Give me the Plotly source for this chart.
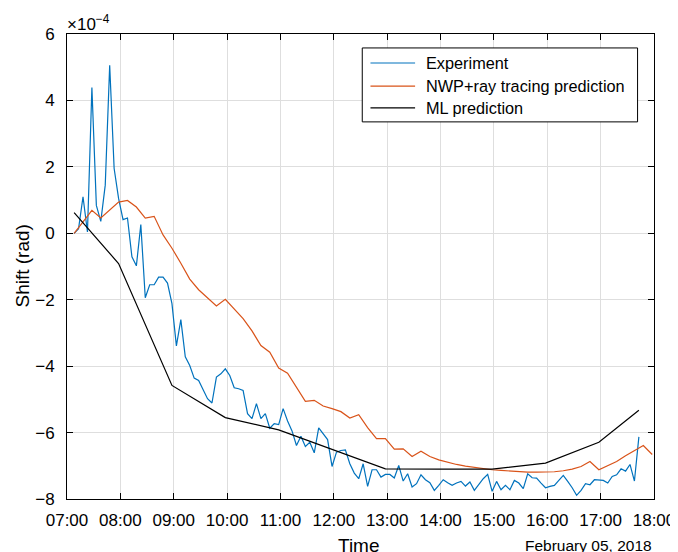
import pandas as pd
import plotly.graph_objects as go

DAY = "2018-02-05"

# Experiment: samples every 5 min starting 07:08 (values in units of 1e-4 rad)
exp_start = "07:08"
exp_vals = [0.0, 0.14, 1.1, 0.04, 4.39, 0.84, 0.36, 1.45, 5.06, 1.95,
            1.05, 0.41, 0.46, -0.71, -0.98, 0.26, -1.94, -1.55, -1.55, -1.32,
            -1.32, -1.5, -2.12, -3.39, -2.6, -3.72, -3.98, -4.36, -4.43, -4.71,
            -4.98, -5.11, -4.33, -4.23, -4.08, -4.28, -4.65, -4.68, -4.73, -5.43,
            -5.58, -5.13, -5.58, -5.43, -5.87, -5.73, -5.76, -5.28, -5.65, -5.95,
            -6.39, -6.11, -6.42, -6.29, -6.61, -5.86, -6.03, -6.21, -7.02, -6.59,
            -6.54, -6.52, -6.94, -7.22, -7.39, -6.94, -7.62, -7.12, -7.12, -7.34,
            -7.26, -7.26, -7.37, -6.99, -7.46, -7.24, -7.64, -7.54, -7.27, -7.42,
            -7.51, -7.74, -7.59, -7.42, -7.51, -7.59, -7.52, -7.47, -7.61, -7.49,
            -7.74, -7.56, -7.39, -7.26, -7.77, -7.47, -7.72, -7.59, -7.72, -7.44,
            -7.52, -7.69, -7.24, -7.36, -7.37, -7.52, -7.66, -7.62, -7.59, -7.44,
            -7.29, -7.47, -7.66, -7.89, -7.74, -7.54, -7.57, -7.42, -7.42, -7.44,
            -7.52, -7.32, -7.27, -7.09, -7.16, -6.96, -7.46, -6.13]

# NWP + ray tracing prediction: every 10 min starting 07:08
nwp_start = "07:08"
nwp_vals = [0.0, 0.35, 0.69, 0.46, 0.70, 0.94, 0.99, 0.79, 0.46, 0.51,
            -0.05, -0.45, -0.9, -1.38, -1.7, -1.95, -2.19, -1.99, -2.28, -2.57,
            -2.94, -3.38, -3.58, -4.06, -4.21, -4.65, -5.06, -5.03, -5.2, -5.28,
            -5.37, -5.56, -5.46, -5.85, -6.18, -6.18, -6.5, -6.49, -6.72, -6.56,
            -6.72, -6.82, -6.9, -6.96, -7.01, -7.05, -7.09, -7.12, -7.14, -7.16,
            -7.18, -7.19, -7.19, -7.19, -7.18, -7.15, -7.1, -7.02, -6.87, -7.12,
            -7.0, -6.87, -6.7, -6.55, -6.39, -6.66]

# ML prediction
ml_times = ["07:08", "07:58", "08:58", "09:58", "10:58", "11:58", "12:58",
            "13:58", "14:58", "15:58", "16:58", "17:43"]
ml_vals = [0.62, -0.91, -4.58, -5.55, -5.92, -6.5, -7.09, -7.1, -7.1, -6.92,
           -6.29, -5.33]

series_names = ["Experiment", "NWP+ray tracing prediction", "ML prediction"]
series_colors = ["#0072BD", "#D95319", "#000000"]

x_ticks = ["07:00", "08:00", "09:00", "10:00", "11:00", "12:00", "13:00",
           "14:00", "15:00", "16:00", "17:00", "18:00"]
y_ticks = [6, 4, 2, 0, -2, -4, -6, -8]
SCALE = 1e-4

exp_t = pd.date_range(f"{DAY} {exp_start}", periods=len(exp_vals), freq="5min")
nwp_t = pd.date_range(f"{DAY} {nwp_start}", periods=len(nwp_vals), freq="10min")
ml_t = [pd.Timestamp(f"{DAY} {t}") for t in ml_times]

FONT = "Liberation Sans, Arial, sans-serif"

fig = go.Figure()
for t, vals, name, col in zip([exp_t, nwp_t, ml_t], [exp_vals, nwp_vals, ml_vals],
                              series_names, series_colors):
    fig.add_trace(go.Scatter(x=t, y=[v * SCALE for v in vals], mode="lines",
                             name=name, line=dict(color=col, width=1.2)))

# page body has an 8px margin, so the figure is 8px smaller than the window
fig.update_layout(
    width=670, height=544,
    margin=dict(l=59, r=24, t=26, b=53, autoexpand=False),
    paper_bgcolor="white", plot_bgcolor="white",
    font=dict(family=FONT, size=17, color="#000000"),
    showlegend=False,
)

fig.update_xaxes(
    type="date",
    range=[f"{DAY} 07:00", f"{DAY} 18:00"],
    tickvals=[pd.Timestamp(f"{DAY} {t}") for t in x_ticks],
    ticktext=x_ticks,
    ticks="inside", ticklen=6, tickcolor="#000000", tickwidth=1,
    showline=True, linecolor="#000000", linewidth=1, mirror="ticks",
    showgrid=True, gridcolor="#dedede", gridwidth=1,
    zeroline=False, automargin=False, ticklabelstandoff=6,
    tickfont=dict(family=FONT, size=17, color="#000000"),
)
fig.update_yaxes(
    range=[-8 * SCALE, 6 * SCALE],
    tickvals=[v * SCALE for v in y_ticks],
    ticktext=[str(v).replace("-", "\u2212") for v in y_ticks],
    ticks="inside", ticklen=6, tickcolor="#000000", tickwidth=1,
    showline=True, linecolor="#000000", linewidth=1, mirror="ticks",
    showgrid=True, gridcolor="#dedede", gridwidth=1,
    zeroline=False, automargin=False, ticklabelstandoff=8,
    tickfont=dict(family=FONT, size=17, color="#000000"),
)

# Legend box (drawn manually to match the reference's proportions)
fig.add_shape(type="rect", xref="paper", yref="paper", x0=0.503, x1=0.972,
              y0=0.811, y1=0.970, line=dict(color="#000000", width=1),
              fillcolor="white", layer="above")
leg_y = [0.9376, 0.888, 0.841]
for yy, name, col in zip(leg_y, series_names, series_colors):
    fig.add_shape(type="line", xref="paper", yref="paper", x0=0.517, x1=0.593,
                  y0=yy, y1=yy, line=dict(color=col, width=1.2), layer="above")
    fig.add_annotation(text=name, xref="paper", yref="paper", x=0.609, y=yy,
                       xanchor="left", yanchor="middle", showarrow=False,
                       font=dict(family=FONT, size=16.3, color="#000000"))

fig.add_annotation(text="Time", xref="paper", yref="paper", x=0.5, y=0,
                   xanchor="center", yanchor="middle", yshift=-46, xshift=-2,
                   showarrow=False,
                   font=dict(family=FONT, size=19, color="#000000"))
fig.add_annotation(text="February 05, 2018", xref="paper", yref="paper", x=1.0, y=0,
                   xanchor="right", yanchor="middle", yshift=-46, xshift=0,
                   showarrow=False,
                   font=dict(family=FONT, size=15.5, color="#000000"))
fig.add_annotation(text="Shift (rad)", xref="paper", yref="paper", x=0, y=0.5,
                   xanchor="center", yanchor="middle", xshift=-45, textangle=-90,
                   showarrow=False, font=dict(family=FONT, size=19, color="#000000"))
fig.add_annotation(text="\u00d710<sup>\u22124</sup>", xref="paper", yref="paper",
                   x=0, y=1, xanchor="left", yanchor="bottom", yshift=-2, xshift=-2,
                   showarrow=False, font=dict(family=FONT, size=17, color="#000000"))

fig.write_html("out.html")
